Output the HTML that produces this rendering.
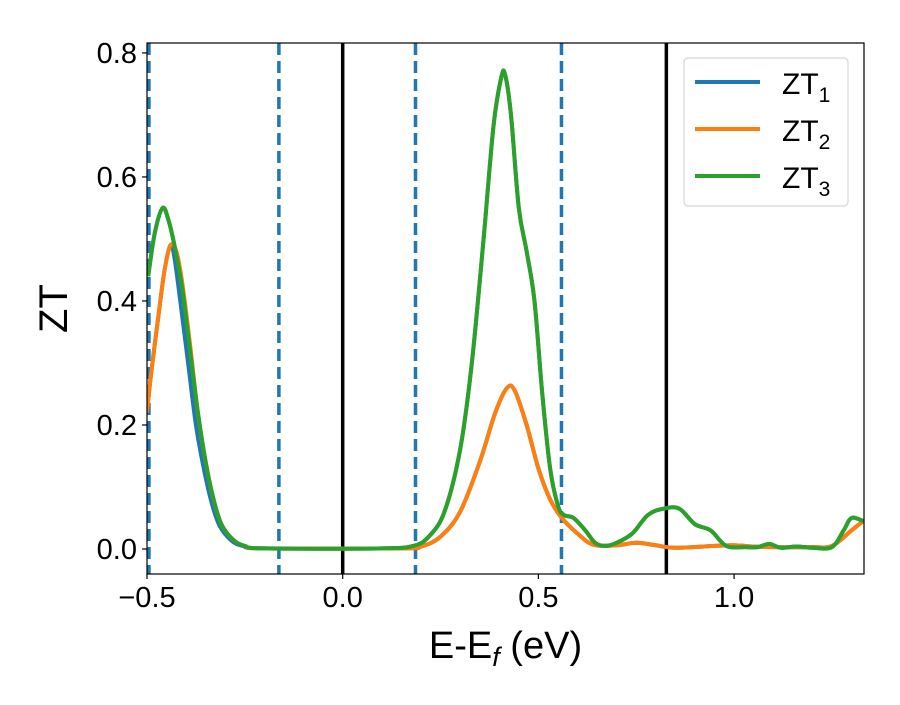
<!DOCTYPE html>
<html><head><meta charset="utf-8"><style>body{margin:0;background:#fff}svg{font-family:"Liberation Sans","DejaVu Sans",sans-serif}</style></head>
<body>
<svg id="chart" width="900" height="700" xmlns="http://www.w3.org/2000/svg">
<g id="plot"></g>
</svg>
<script>
const xTicks=[-0.5,0.0,0.5,1.0];
const xTickLabels=["\u22120.5","0.0","0.5","1.0"];
const yTicks=[0,0.2,0.4,0.6,0.8];
const yTickLabels=["0.0","0.2","0.4","0.6","0.8"];
const dashedLines=[-0.495,-0.163,0.186,0.559];
const solidLines=[0.0,0.827];
const zt3X=[-0.497,-0.48,-0.46,-0.445,-0.43,-0.41,-0.39,-0.37,-0.35,-0.33,-0.31,-0.28,-0.25,-0.2,0.1,0.18,0.22,0.26,0.3,0.33,0.36,0.385,0.405,0.415,0.43,0.45,0.47,0.49,0.51,0.53,0.55,0.565,0.59,0.62,0.645,0.67,0.7,0.74,0.78,0.82,0.86,0.9,0.94,0.98,1.03,1.06,1.09,1.12,1.16,1.2,1.25,1.28,1.3,1.33];
const zt3Y=[0.44,0.51,0.55,0.53,0.49,0.42,0.32,0.22,0.14,0.08,0.04,0.015,0.005,0.001,0.001,0.005,0.02,0.06,0.16,0.3,0.5,0.68,0.76,0.765,0.7,0.55,0.48,0.4,0.25,0.13,0.07,0.055,0.05,0.03,0.01,0.005,0.01,0.025,0.055,0.065,0.065,0.04,0.03,0.005,0.003,0.003,0.008,0.002,0.004,0.002,0.003,0.03,0.05,0.045];
const zt2X=[-0.5,-0.49,-0.47,-0.455,-0.44,-0.425,-0.41,-0.39,-0.37,-0.35,-0.33,-0.31,-0.28,-0.25,-0.2,0.15,0.2,0.25,0.3,0.35,0.39,0.42,0.44,0.47,0.5,0.53,0.56,0.6,0.64,0.7,0.75,0.8,0.85,0.95,1.0,1.05,1.1,1.2,1.25,1.3,1.33];
const zt2Y=[0.22,0.28,0.38,0.45,0.49,0.48,0.43,0.33,0.22,0.14,0.08,0.04,0.015,0.005,0.001,0.001,0.004,0.02,0.06,0.14,0.22,0.26,0.255,0.2,0.13,0.08,0.05,0.025,0.007,0.006,0.01,0.006,0.002,0.005,0.006,0.004,0.003,0.003,0.005,0.03,0.045];
const zt1X=[-0.5,-0.49,-0.47,-0.455,-0.44,-0.43,-0.415,-0.395,-0.375,-0.355,-0.335,-0.315,-0.285,-0.255,-0.2,0.15,0.2,0.25,0.3,0.35,0.39,0.42,0.44,0.47,0.5,0.53,0.56,0.6,0.64,0.7,0.75,0.8,0.85,0.95,1.0,1.05,1.1,1.2,1.25,1.3,1.33];
const zt1Y=[0.22,0.28,0.38,0.45,0.49,0.47,0.4,0.3,0.2,0.13,0.075,0.038,0.014,0.005,0.001,0.001,0.004,0.02,0.06,0.14,0.22,0.26,0.255,0.2,0.13,0.08,0.05,0.025,0.007,0.006,0.01,0.006,0.002,0.005,0.006,0.004,0.003,0.003,0.005,0.03,0.045];

const L=147,R=864,T=43,B=574,xMin=-0.5,xMax=1.332,yMin=-0.0403,yMax=0.816;
const sx=v=>L+(v-xMin)/(xMax-xMin)*(R-L);
const sy=v=>B-(v-yMin)/(yMax-yMin)*(B-T);
const NS="http://www.w3.org/2000/svg";
const svg=document.getElementById('chart');
function mk(tag,attrs,parent){const e=document.createElementNS(NS,tag);for(const k in attrs)e.setAttribute(k,attrs[k]);(parent||svg).appendChild(e);return e;}
const clip=mk('clipPath',{id:'clp'});mk('rect',{x:L,y:T,width:R-L,height:B-T},clip);
const g=mk('g',{'clip-path':'url(#clp)'});


dashedLines.forEach(v=>{const l=mk('line',{x1:sx(v),x2:sx(v),y1:T,y2:B,stroke:'#1f77b4','stroke-width':3.5,'stroke-dasharray':'12,6'},g);

});
solidLines.forEach(v=>{const l=mk('line',{x1:sx(v),x2:sx(v),y1:T,y2:B,stroke:'#000','stroke-width':3.5},g);

});
function smooth(xs,ys){const p=xs.map((x,i)=>[sx(x),sy(ys[i])]);let d='M'+p[0][0]+','+p[0][1];
for(let i=0;i<p.length-1;i++){const p0=p[Math.max(0,i-1)],p1=p[i],p2=p[i+1],p3=p[Math.min(p.length-1,i+2)];
d+=' C'+(p1[0]+(p2[0]-p0[0])/6)+','+(p1[1]+(p2[1]-p0[1])/6)+' '+(p2[0]-(p3[0]-p1[0])/6)+','+(p2[1]-(p3[1]-p1[1])/6)+' '+p2[0]+','+p2[1];}return d;}
[[zt1X,zt1Y,'#1f77b4','zt1-line'],[zt3X,zt3Y,'#2ca02c','zt3-line'],[zt2X,zt2Y,'#ff7f0e','zt2-line']].forEach(s=>{
const p=mk('path',{d:smooth(s[0],s[1]),fill:'none',stroke:s[2],'stroke-width':4,'stroke-linejoin':'round'},g);

});
const gTop=mk('path',{d:smooth(zt3X,zt3Y),fill:'none',stroke:'#2ca02c','stroke-width':4},g);


const frame=mk('rect',{x:L,y:T,width:R-L,height:B-T,fill:'none',stroke:'#000','stroke-width':1.2});


xTicks.forEach((v,i)=>{mk('line',{x1:sx(v),x2:sx(v),y1:B,y2:B+5,stroke:'#000','stroke-width':1.2});
const t=mk('text',{x:sx(v),y:B+33,'font-size':29,'text-anchor':'middle'});t.textContent=xTickLabels[i];

});
yTicks.forEach((v,i)=>{mk('line',{x1:L-5,x2:L,y1:sy(v),y2:sy(v),stroke:'#000','stroke-width':1.2});
const t=mk('text',{x:L-10,y:sy(v)+10,'font-size':29,'text-anchor':'end'});t.textContent=yTickLabels[i];

});
const xt=mk('text',{x:(L+R)/2,y:658,'font-size':38,'text-anchor':'middle'});


xt.innerHTML='E-E<tspan font-style="italic" font-size="27" dy="8">f</tspan><tspan dy="-8"> (eV)</tspan>';
const yt=mk('text',{x:67,y:(T+B)/2,'font-size':40,'text-anchor':'middle',transform:'rotate(-90 67 '+((T+B)/2)+')'});
yt.textContent='ZT';


const lg=mk('g',{});


mk('rect',{x:684,y:58,width:164,height:148,rx:4,fill:'#fff',stroke:'#ccc','stroke-width':1},lg);
[['#1f77b4','1',82],['#ff7f0e','2',129],['#2ca02c','3',176]].forEach(e=>{
const eg=mk('g',{},lg);


mk('line',{x1:695,x2:760,y1:e[2],y2:e[2],stroke:e[0],'stroke-width':4},eg);
const t=mk('text',{x:782,y:e[2]+12,'font-size':30},eg);
t.innerHTML='ZT<tspan font-size="21" dy="8">'+e[1]+'</tspan>';});
</script>
</body></html>
